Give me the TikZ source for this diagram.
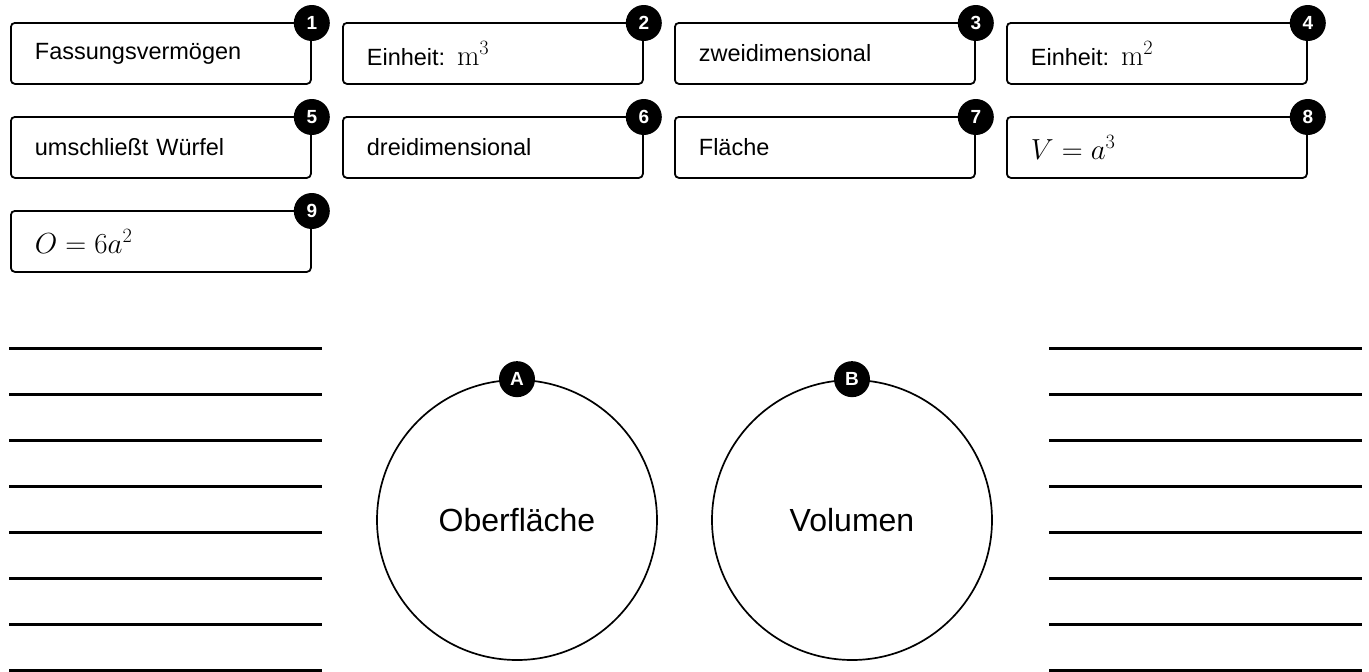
\RequirePackage{fix-cm}
\documentclass[tikz,border=0pt]{standalone}
\usepackage[no-math]{fontspec}
\setmainfont{Liberation Sans}
\begin{document}
\begin{tikzpicture}[x=1pt,y=-1pt,
  card/.style={draw, line width=1.8pt, rounded corners=4pt, anchor=north west,
    minimum height=61pt, text width=252pt, inner xsep=24pt, inner ysep=0pt, align=left,
    font=\fontsize{23.5}{28}\selectfont},
  badge/.style={circle, fill=black, text=white, minimum size=36pt, inner sep=0pt,
    font=\fontsize{19}{21}\selectfont\bfseries},
  bigc/.style={circle, draw, line width=1.7pt, minimum size=280pt, inner sep=0pt,
    font=\fontsize{32}{36}\selectfont},
  rule/.style={line width=3pt}
]
\useasboundingbox (0,0) rectangle (1369,672);
\newcommand{\mth}[1]{{\fontsize{29}{30}\selectfont$#1$}}
% row 1
\node[card] (c1) at (10,22) {Fassungsvermögen};
\node[card] (c2) at (342,22) {Einheit: \mth{\mathrm{m}^3}};
\node[card] (c3) at (674,22) {zweidimensional};
\node[card] (c4) at (1006,22) {Einheit: \mth{\mathrm{m}^2}};
% row 2
\node[card] (c5) at (10,116) {umschließt Würfel};
\node[card] (c6) at (342,116) {dreidimensional};
\node[card] (c7) at (674,116) {Fläche};
\node[card] (c8) at (1006,116) {\mth{V=a^3}};
% row 3
\node[card] (c9) at (10,210) {\mth{O=6a^2}};
% badges
\foreach \i in {1,...,9} {
  \node[badge] (b\i) at ([yshift=-1pt]c\i.north east) {\i};
}
% circles
\node[bigc] (A) at (517,520) {Oberfläche};
\node[bigc] (B) at (852,520) {Volumen};
\node[badge] (bA) at (A.north) {A};
\node[badge] (bB) at (B.north) {B};
% writing lines
\foreach \k in {0,...,7} {
  \draw[rule] (9,348+46*\k) -- (322,348+46*\k);
  \draw[rule] (1049,348+46*\k) -- (1362,348+46*\k);
}
\end{tikzpicture}
\end{document}
